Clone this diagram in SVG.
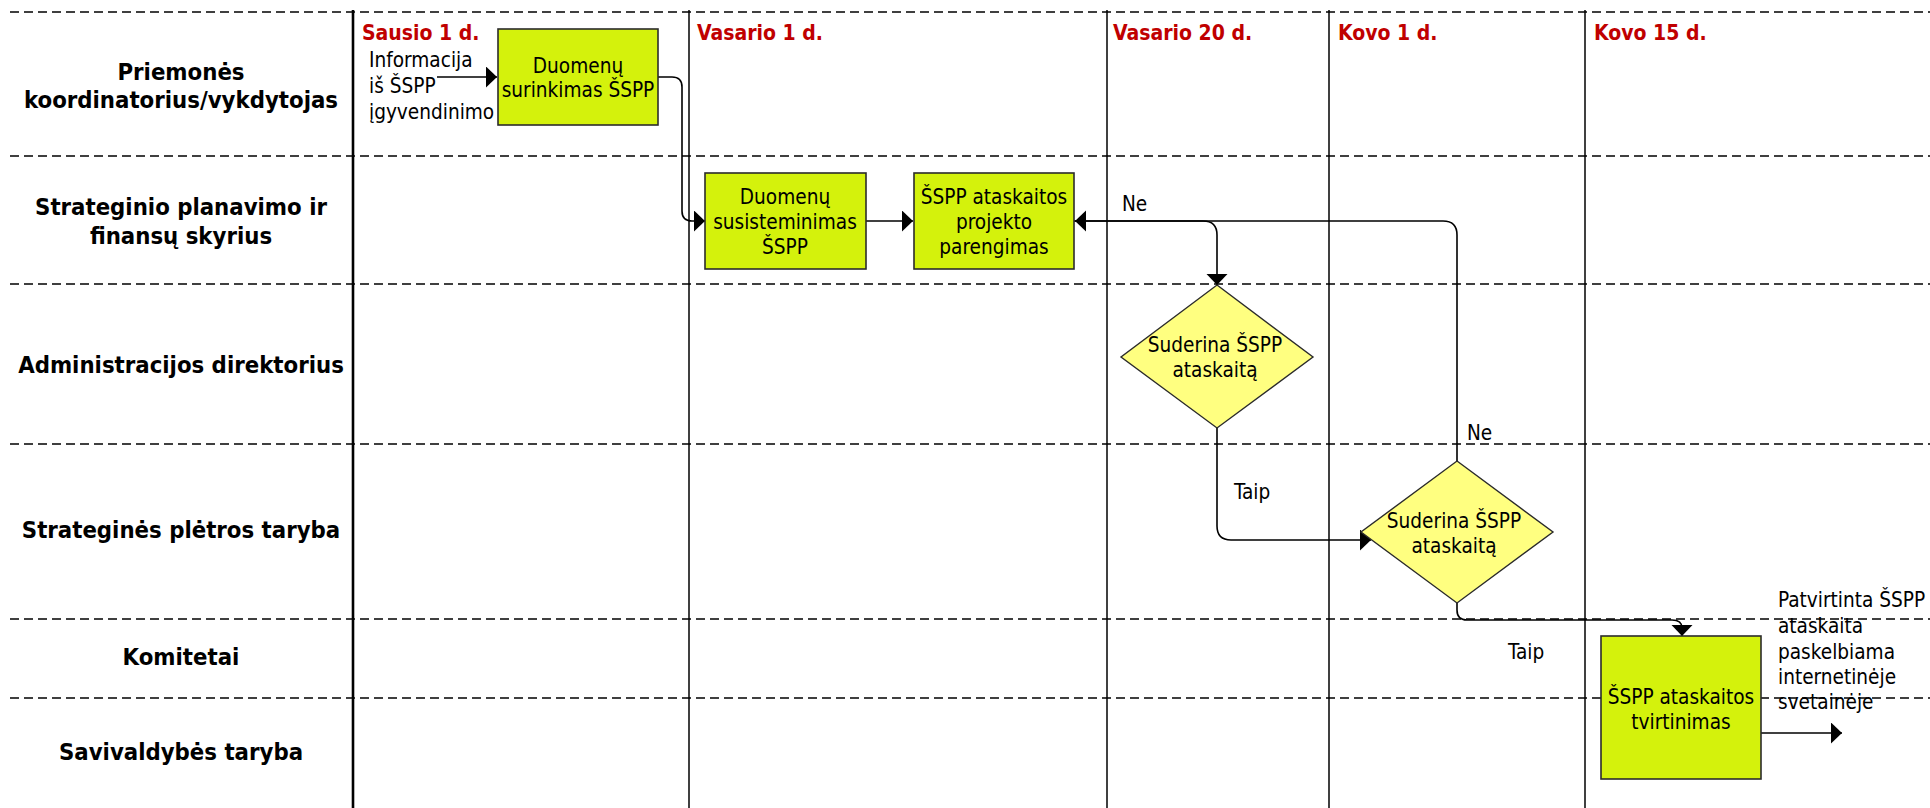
<svg xmlns="http://www.w3.org/2000/svg" width="1930" height="808" viewBox="0 0 1930 808">
<style>
.lane{stroke:#000;stroke-width:1.6;stroke-dasharray:9 5;fill:none}
.vl{stroke:#000;stroke-width:1.5;fill:none}
.vl0{stroke:#000;stroke-width:2.6;fill:none}
.box{fill:#D4F20C;stroke:#2b2b2b;stroke-width:1.6}
.dia{fill:#FFFF80;stroke:#2b2b2b;stroke-width:1.4}
.con{fill:none;stroke:#000;stroke-width:1.6}
.t{font-family:"DejaVu Sans Condensed","DejaVu Sans",sans-serif;font-stretch:condensed;font-size:20.6px;fill:#000}
.c{text-anchor:middle}
.lbl{font-family:"DejaVu Sans Condensed","DejaVu Sans",sans-serif;font-stretch:condensed;font-weight:bold;font-size:23.7px;fill:#000;text-anchor:middle}
.date{font-family:"DejaVu Sans Condensed","DejaVu Sans",sans-serif;font-stretch:condensed;font-weight:bold;font-size:21px;fill:#C00000}
</style>
<defs>
<marker id="arr" markerUnits="userSpaceOnUse" markerWidth="12" markerHeight="22" refX="11" refY="10.5" orient="auto" viewBox="0 0 12 22">
<path d="M0,0 L11,10.5 L0,21 z" fill="#000"/>
</marker>
</defs>
<rect width="1930" height="808" fill="#fff"/>
<g id="grid">
<line class="lane" x1="10" y1="12" x2="1930" y2="12"/>
<line class="lane" x1="10" y1="156" x2="1930" y2="156"/>
<line class="lane" x1="10" y1="284" x2="1930" y2="284"/>
<line class="lane" x1="10" y1="444" x2="1930" y2="444"/>
<line class="lane" x1="10" y1="619" x2="1930" y2="619"/>
<line class="lane" x1="10" y1="698" x2="1930" y2="698"/>
<line class="vl0" x1="353" y1="10" x2="353" y2="808"/>
<line class="vl" x1="689" y1="10" x2="689" y2="808"/>
<line class="vl" x1="1107" y1="10" x2="1107" y2="808"/>
<line class="vl" x1="1329" y1="10" x2="1329" y2="808"/>
<line class="vl" x1="1585" y1="10" x2="1585" y2="808"/>
</g>
<g id="lane-labels">
<text class="lbl" x="181" y="80">Priemonės</text>
<text class="lbl" x="181" y="108">koordinatorius/vykdytojas</text>
<text class="lbl" x="181" y="215">Strateginio planavimo ir</text>
<text class="lbl" x="181" y="244">finansų skyrius</text>
<text class="lbl" x="181" y="373">Administracijos direktorius</text>
<text class="lbl" x="181" y="538">Strateginės plėtros taryba</text>
<text class="lbl" x="181" y="665">Komitetai</text>
<text class="lbl" x="181" y="760">Savivaldybės taryba</text>
</g>
<g id="dates">
<text class="date" x="362" y="40">Sausio 1 d.</text>
<text class="date" x="697" y="40">Vasario 1 d.</text>
<text class="date" x="1113" y="40">Vasario 20 d.</text>
<text class="date" x="1338" y="40">Kovo 1 d.</text>
<text class="date" x="1594" y="40">Kovo 15 d.</text>
</g>
<g id="connectors">
<path class="con" d="M437,77 H497" marker-end="url(#arr)"/>
<path class="con" d="M658,77 H672 Q682,77 682,87 V211 Q682,221 692,221 H705" marker-end="url(#arr)"/>
<path class="con" d="M866,221 H913" marker-end="url(#arr)"/>
<path class="con" d="M1074,221 H1203 Q1217,221 1217,235 V285" marker-end="url(#arr)"/>
<path class="con" d="M1457,461 V235 Q1457,221 1443,221 H1075" marker-end="url(#arr)"/>
<path class="con" d="M1217,428 V526 Q1217,540 1231,540 H1371" marker-end="url(#arr)"/>
<path class="con" d="M1457,603 V610 Q1457,620 1467,620 H1672 Q1682,620 1682,628 V636" marker-end="url(#arr)"/>
<path class="con" d="M1761,733 H1842" marker-end="url(#arr)"/>
<text class="t" x="1122" y="211">Ne</text>
<text class="t" x="1467" y="440">Ne</text>
<text class="t" x="1234" y="499">Taip</text>
<text class="t" x="1508" y="659">Taip</text>
</g>
<g id="input-text">
<text class="t" x="369" y="67">Informacija</text>
<text class="t" x="369" y="93">iš ŠSPP</text>
<text class="t" x="369" y="119">įgyvendinimo</text>
</g>
<g id="node-surinkimas">
<rect class="box" x="498" y="29" width="160" height="96"/>
<text class="t c" x="578" y="73">Duomenų</text>
<text class="t c" x="578" y="97">surinkimas ŠSPP</text>
</g>
<g id="node-susisteminimas">
<rect class="box" x="705" y="173" width="161" height="96"/>
<text class="t c" x="785" y="204">Duomenų</text>
<text class="t c" x="785" y="229">susisteminimas</text>
<text class="t c" x="785" y="254">ŠSPP</text>
</g>
<g id="node-parengimas">
<rect class="box" x="914" y="173" width="160" height="96"/>
<text class="t c" x="994" y="204">ŠSPP ataskaitos</text>
<text class="t c" x="994" y="229">projekto</text>
<text class="t c" x="994" y="254">parengimas</text>
</g>
<g id="node-suderina-direktorius">
<polygon class="dia" points="1217,285 1313,357 1217,428 1121,357"/>
<text class="t c" x="1215" y="352">Suderina ŠSPP</text>
<text class="t c" x="1215" y="377">ataskaitą</text>
</g>
<g id="node-suderina-taryba">
<polygon class="dia" points="1457,461 1553,532 1457,603 1361,532"/>
<text class="t c" x="1454" y="528">Suderina ŠSPP</text>
<text class="t c" x="1454" y="553">ataskaitą</text>
</g>
<g id="node-tvirtinimas">
<rect class="box" x="1601" y="636" width="160" height="143"/>
<text class="t c" x="1681" y="704">ŠSPP ataskaitos</text>
<text class="t c" x="1681" y="729">tvirtinimas</text>
</g>
<g id="output-text">
<text class="t" x="1778" y="607">Patvirtinta ŠSPP</text>
<text class="t" x="1778" y="633">ataskaita</text>
<text class="t" x="1778" y="659">paskelbiama</text>
<text class="t" x="1778" y="684">internetinėje</text>
<text class="t" x="1778" y="709">svetainėje</text>
</g>
</svg>
